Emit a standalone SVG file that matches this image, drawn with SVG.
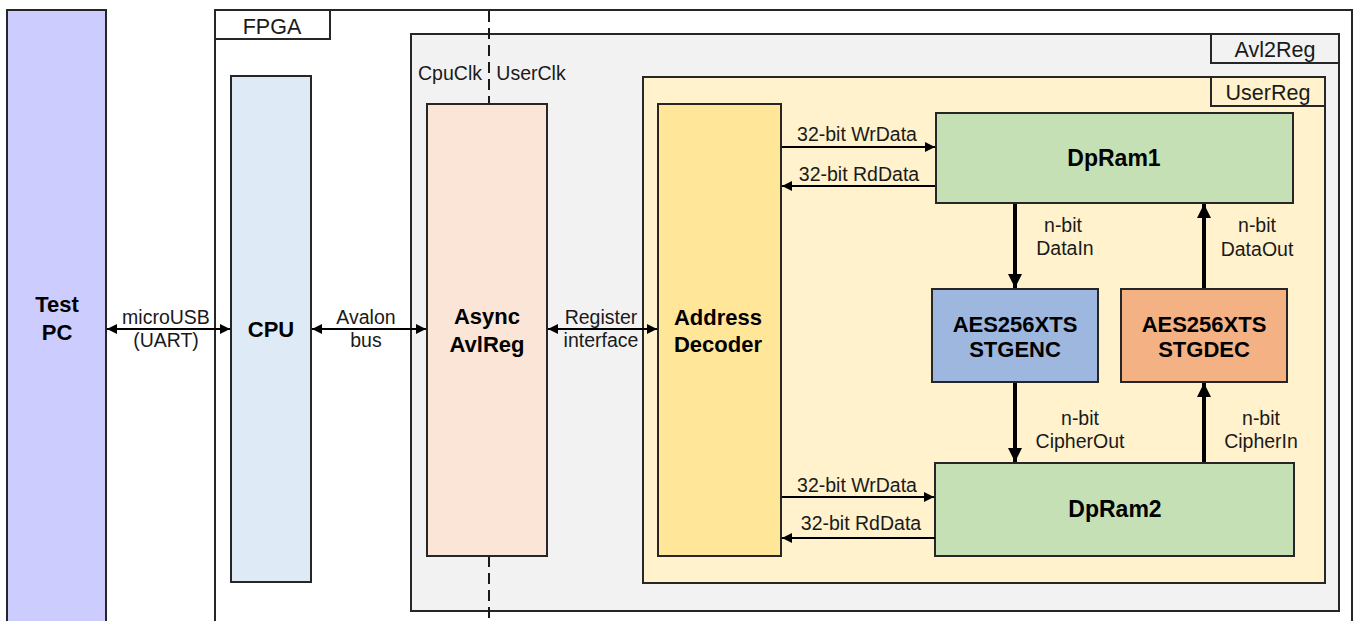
<svg xmlns="http://www.w3.org/2000/svg" width="1357" height="621" viewBox="0 0 1357 621">
<defs>
<marker id="ah" viewBox="0 0 10 10" refX="10" refY="5" markerWidth="5" markerHeight="5" markerUnits="strokeWidth" orient="auto-start-reverse">
<path d="M0,0 L10,5 L0,10 z" fill="#000"/>
</marker>
<marker id="ahb" viewBox="0 0 10 10" refX="10" refY="5" markerWidth="3.5" markerHeight="3.5" markerUnits="strokeWidth" orient="auto-start-reverse">
<path d="M0,0 L10,5 L0,10 z" fill="#000"/>
</marker>
</defs>
<style>
.box{stroke:#262626;stroke-width:2}
.t{font-family:"Liberation Sans",Arial,sans-serif;font-size:19.5px;fill:#1a1a1a;text-anchor:middle}
.tab{font-family:"Liberation Sans",Arial,sans-serif;font-size:21.5px;fill:#1a1a1a;text-anchor:middle}
.b{font-family:"Liberation Sans",Arial,sans-serif;font-size:22px;font-weight:bold;fill:#000;text-anchor:middle}
.c{stroke:#000;stroke-width:2;fill:none}
.ct{stroke:#000;stroke-width:4;fill:none}
.dash{stroke:#1a1a1a;stroke-width:2;stroke-dasharray:11,6;fill:none}
</style>
<rect width="1357" height="621" fill="#fff"/>

<g id="testpc">
<rect class="box" x="7" y="10" width="99" height="620" fill="#ccccff"/>
<text class="b" x="57" y="312">Test</text>
<text class="b" x="57" y="340">PC</text>
</g>

<g id="fpga">
<rect class="box" x="215" y="10" width="1137" height="620" fill="#fff"/>
<rect class="box" x="215" y="10" width="115" height="29" fill="#fff"/>
<text class="tab" x="272" y="34">FPGA</text>
</g>

<g id="avl2reg">
<rect class="box" x="411" y="34" width="928" height="577" fill="#f2f2f2"/>
<rect class="box" x="1211" y="34" width="128" height="29" fill="#f2f2f2"/>
<text class="tab" x="1275" y="57">Avl2Reg</text>
<text class="t" x="450" y="80">CpuClk</text>
<text class="t" x="531" y="80">UserClk</text>
</g>

<g id="clkline">
<line class="dash" x1="489" y1="11" x2="489" y2="104"/>
<line class="dash" x1="489" y1="556" x2="489" y2="621"/>
</g>

<g id="cpu">
<rect class="box" x="231" y="76" width="80" height="506" fill="#deebf7"/>
<text class="b" x="271" y="337">CPU</text>
</g>

<g id="async">
<rect class="box" x="427" y="104" width="120" height="452" fill="#fbe5d6"/>
<text class="b" x="487" y="324">Async</text>
<text class="b" x="487" y="352">AvlReg</text>
</g>

<g id="userreg">
<rect class="box" x="643" y="77" width="682" height="506" fill="#fff2cc"/>
<rect class="box" x="1211" y="77" width="114" height="29" fill="#fff2cc"/>
<text class="tab" x="1268" y="100">UserReg</text>
</g>

<g id="addrdec">
<rect class="box" x="658" y="104" width="123" height="452" fill="#ffe699"/>
<text class="b" x="718" y="325">Address</text>
<text class="b" x="718" y="352">Decoder</text>
</g>

<g id="dpram1">
<rect class="box" x="936" y="113" width="357" height="90" fill="#c5e0b4"/>
<text class="b" x="1114" y="166" style="font-size:23px">DpRam1</text>
</g>

<g id="enc">
<rect class="box" x="932" y="289" width="166" height="93" fill="#9db7df"/>
<text class="b" x="1015" y="332">AES256XTS</text>
<text class="b" x="1015" y="357">STGENC</text>
</g>

<g id="dec">
<rect class="box" x="1121" y="289" width="166" height="93" fill="#f4b183"/>
<text class="b" x="1204" y="332">AES256XTS</text>
<text class="b" x="1204" y="357">STGDEC</text>
</g>

<g id="dpram2">
<rect class="box" x="935" y="463" width="359" height="93" fill="#c5e0b4"/>
<text class="b" x="1115" y="517" style="font-size:23px">DpRam2</text>
</g>

<g id="connectors">
<line class="c" x1="107" y1="329" x2="230" y2="329" marker-start="url(#ah)" marker-end="url(#ah)"/>
<line class="c" x1="312" y1="329" x2="426" y2="329" marker-start="url(#ah)" marker-end="url(#ah)"/>
<line class="c" x1="548" y1="329" x2="657" y2="329" marker-start="url(#ah)" marker-end="url(#ah)"/>
<line class="c" x1="782" y1="147" x2="935" y2="147" marker-end="url(#ah)"/>
<line class="c" x1="935" y1="186" x2="782" y2="186" marker-end="url(#ah)"/>
<line class="c" x1="782" y1="497" x2="934" y2="497" marker-end="url(#ah)"/>
<line class="c" x1="935" y1="538" x2="782" y2="538" marker-end="url(#ah)"/>
<line class="ct" x1="1015" y1="204" x2="1015" y2="288" marker-end="url(#ahb)"/>
<line class="ct" x1="1204" y1="288" x2="1204" y2="204" marker-end="url(#ahb)"/>
<line class="ct" x1="1015" y1="383" x2="1015" y2="462" marker-end="url(#ahb)"/>
<line class="ct" x1="1204" y1="462" x2="1204" y2="383" marker-end="url(#ahb)"/>
</g>

<g id="labels">
<text class="t" x="166" y="324">microUSB</text>
<text class="t" x="166" y="347">(UART)</text>
<text class="t" x="366" y="324">Avalon</text>
<text class="t" x="366" y="347">bus</text>
<text class="t" x="601" y="324">Register</text>
<text class="t" x="601" y="347">interface</text>
<text class="t" x="857" y="141">32-bit WrData</text>
<text class="t" x="859" y="181">32-bit RdData</text>
<text class="t" x="857" y="492">32-bit WrData</text>
<text class="t" x="861" y="530">32-bit RdData</text>
<text class="t" x="1063" y="232">n-bit</text>
<text class="t" x="1065" y="255">DataIn</text>
<text class="t" x="1257" y="232">n-bit</text>
<text class="t" x="1257" y="256">DataOut</text>
<text class="t" x="1080" y="425">n-bit</text>
<text class="t" x="1080" y="448">CipherOut</text>
<text class="t" x="1261" y="425">n-bit</text>
<text class="t" x="1261" y="448">CipherIn</text>
</g>
</svg>
